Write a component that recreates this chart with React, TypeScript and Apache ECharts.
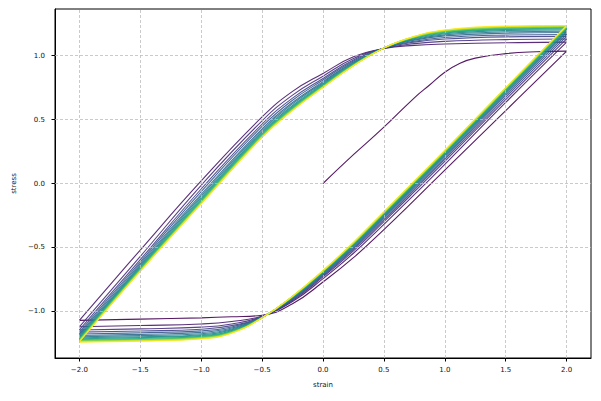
import React, { useEffect, useRef } from "react";
import * as echarts from "echarts";

// Initial loading branch (0 -> 2)
const initialStrain = [0, 0.25, 0.5, 0.75, 0.875, 1.0, 1.125, 1.25, 1.5, 1.75, 2.0];
const initialStress = [0, 0.225, 0.44, 0.67, 0.77, 0.87, 0.94, 0.98, 1.015, 1.03, 1.035];

// Strain sample points of the loading (up) and unloading (down) branches
const upStrain = [-2.0, -1.5, -1.0, -0.5, -0.25, 0.0, 0.25, 0.5, 0.75, 1.0, 1.5, 2.0];
const downStrain = [2.0, 1.5, 1.0, 0.75, 0.5, 0.25, 0.0, -0.25, -0.5, -0.75, -1.0, -1.5, -2.0];

// Loading branches, cycles 1..15
const upStress = [
  [-1.07, -0.52, 0.02, 0.52, 0.72, 0.86, 0.99, 1.055, 1.08, 1.09, 1.1, 1.105],
  [-1.12, -0.57, -0.014, 0.49, 0.691, 0.839, 0.977, 1.056, 1.093, 1.111, 1.125, 1.13],
  [-1.145, -0.595, -0.043, 0.464, 0.667, 0.821, 0.965, 1.057, 1.105, 1.129, 1.146, 1.15],
  [-1.162, -0.612, -0.063, 0.446, 0.651, 0.809, 0.958, 1.057, 1.112, 1.141, 1.16, 1.165],
  [-1.176, -0.626, -0.084, 0.427, 0.633, 0.796, 0.949, 1.058, 1.121, 1.154, 1.175, 1.18],
  [-1.188, -0.638, -0.097, 0.416, 0.622, 0.788, 0.944, 1.058, 1.126, 1.162, 1.185, 1.19],
  [-1.198, -0.648, -0.111, 0.403, 0.61, 0.78, 0.939, 1.059, 1.131, 1.17, 1.195, 1.2],
  [-1.206, -0.656, -0.122, 0.394, 0.601, 0.773, 0.935, 1.059, 1.135, 1.177, 1.203, 1.208],
  [-1.213, -0.663, -0.131, 0.386, 0.594, 0.768, 0.931, 1.059, 1.139, 1.182, 1.209, 1.214],
  [-1.219, -0.669, -0.138, 0.379, 0.588, 0.763, 0.928, 1.059, 1.142, 1.187, 1.214, 1.219],
  [-1.224, -0.674, -0.146, 0.373, 0.582, 0.759, 0.926, 1.06, 1.144, 1.191, 1.22, 1.223],
  [-1.228, -0.678, -0.149, 0.37, 0.579, 0.757, 0.924, 1.06, 1.146, 1.193, 1.222, 1.227],
  [-1.231, -0.681, -0.153, 0.366, 0.576, 0.754, 0.923, 1.06, 1.147, 1.196, 1.225, 1.23],
  [-1.234, -0.684, -0.156, 0.363, 0.573, 0.752, 0.921, 1.06, 1.149, 1.198, 1.227, 1.233],
  [-1.237, -0.687, -0.16, 0.36, 0.57, 0.75, 0.92, 1.06, 1.15, 1.2, 1.23, 1.235],
];

// Unloading branches, cycles 0..15
const downStress = [
  [1.035, 0.57, 0.105, -0.13, -0.36, -0.58, -0.77, -0.94, -1.03, -1.042, -1.05, -1.06, -1.07],
  [1.105, 0.634, 0.15, -0.087, -0.319, -0.545, -0.744, -0.923, -1.036, -1.079, -1.098, -1.11, -1.12],
  [1.13, 0.656, 0.173, -0.064, -0.298, -0.527, -0.73, -0.914, -1.039, -1.098, -1.123, -1.136, -1.145],
  [1.15, 0.674, 0.189, -0.049, -0.284, -0.515, -0.721, -0.908, -1.041, -1.111, -1.139, -1.153, -1.162],
  [1.165, 0.688, 0.201, -0.037, -0.273, -0.506, -0.714, -0.903, -1.042, -1.121, -1.152, -1.167, -1.176],
  [1.18, 0.701, 0.212, -0.026, -0.263, -0.497, -0.708, -0.899, -1.044, -1.13, -1.164, -1.179, -1.188],
  [1.19, 0.71, 0.221, -0.017, -0.255, -0.49, -0.703, -0.895, -1.045, -1.138, -1.174, -1.189, -1.198],
  [1.2, 0.719, 0.229, -0.01, -0.248, -0.484, -0.698, -0.892, -1.046, -1.144, -1.182, -1.198, -1.206],
  [1.208, 0.726, 0.235, -0.004, -0.242, -0.479, -0.694, -0.89, -1.047, -1.15, -1.189, -1.204, -1.213],
  [1.214, 0.731, 0.241, 0.002, -0.237, -0.474, -0.691, -0.887, -1.048, -1.155, -1.195, -1.211, -1.219],
  [1.219, 0.736, 0.246, 0.007, -0.233, -0.471, -0.688, -0.885, -1.048, -1.158, -1.2, -1.217, -1.224],
  [1.223, 0.739, 0.249, 0.01, -0.23, -0.468, -0.686, -0.884, -1.049, -1.161, -1.203, -1.22, -1.228],
  [1.227, 0.743, 0.252, 0.013, -0.227, -0.466, -0.685, -0.883, -1.049, -1.164, -1.207, -1.223, -1.231],
  [1.23, 0.746, 0.255, 0.015, -0.225, -0.464, -0.683, -0.882, -1.049, -1.166, -1.209, -1.226, -1.234],
  [1.233, 0.748, 0.257, 0.017, -0.223, -0.462, -0.682, -0.881, -1.05, -1.167, -1.212, -1.229, -1.237],
  [1.235, 0.75, 0.26, 0.02, -0.22, -0.46, -0.68, -0.88, -1.05, -1.17, -1.215, -1.232, -1.24],
];

// viridis, one colour per cycle
const cycleColors = [
  "#440154", "#481a6c", "#472f7d", "#414487", "#39568c", "#31688e", "#2a788e", "#23888e",
  "#1f988b", "#22a884", "#35b779", "#54c568", "#7ad151", "#a5db36", "#d2e21b", "#fde725",
];

const xTicks = [-2.0, -1.5, -1.0, -0.5, 0.0, 0.5, 1.0, 1.5, 2.0];
const yTicks = [-1.0, -0.5, 0.0, 0.5, 1.0];

const FONT = "DejaVu Sans";
const fmt = (v: number) => (v < 0 ? "\u2212" : "") + Math.abs(v).toFixed(1);

export default function App() {
  const ref = useRef<HTMLDivElement>(null);
  useEffect(() => {
    if (!ref.current) return;
    const chart = echarts.init(ref.current, null, { renderer: "svg" });
    const series: any[] = [];
    series.push({
      type: "line",
      data: [],
      silent: true,
      z: 1,
      markLine: {
        silent: true,
        symbol: ["none", "none"],
        label: { show: false },
        lineStyle: { color: "#bdbdbd", width: 0.8, type: [3, 2] },
        data: [
          ...xTicks.map((v) => ({ xAxis: v })),
          ...yTicks.map((v) => ({ yAxis: v })),
        ],
      },
    });
    const lineSeries = (data: number[][], color: string) => ({
      type: "line",
      data,
      showSymbol: false,
      symbol: "none",
      smooth: 0.45,
      silent: true,
      z: 2,
      lineStyle: { color, width: 1.1, opacity: 0.9 },
    });
    cycleColors.forEach((color, k) => {
      if (k === 0) {
        series.push(lineSeries(initialStrain.map((x, i) => [x, initialStress[i]]), color));
      } else {
        series.push(lineSeries(upStrain.map((x, i) => [x, upStress[k - 1][i]]), color));
      }
      series.push(lineSeries(downStrain.map((x, i) => [x, downStress[k][i]]), color));
    });

    const axisCommon = {
      type: "value" as const,
      axisLine: { show: true, onZero: false, lineStyle: { color: "#000", width: 1 } },
      splitLine: { show: false },
      nameLocation: "middle" as const,
      nameTextStyle: { fontSize: 7, color: "#111", fontFamily: FONT },
    };

    chart.setOption({
      animation: false,
      grid: {
        left: 55,
        right: 10,
        top: 9,
        bottom: 43,
        show: true,
        borderColor: "#000",
        borderWidth: 1,
        containLabel: false,
      },
      xAxis: {
        ...axisCommon,
        min: -2.2,
        max: 2.2,
        name: "strain",
        nameGap: 23,
        axisTick: { show: true, inside: false, length: 3.5, customValues: xTicks, lineStyle: { color: "#000" } },
        axisLabel: { customValues: xTicks, formatter: fmt, fontSize: 7, color: "#111", margin: 8, fontFamily: FONT },
      },
      yAxis: {
        ...axisCommon,
        min: -1.364,
        max: 1.364,
        name: "stress",
        nameGap: 36,
        axisTick: { show: true, inside: false, length: 3.5, customValues: yTicks, lineStyle: { color: "#000" } },
        axisLabel: { customValues: yTicks, formatter: fmt, fontSize: 7, color: "#111", margin: 10, fontFamily: FONT },
      },
      series,
    });
    return () => chart.dispose();
  }, []);
  return (
    <div
      ref={ref}
      style={{ position: "fixed", left: 0, top: 0, width: 601, height: 401, background: "#fff" }}
    />
  );
}
